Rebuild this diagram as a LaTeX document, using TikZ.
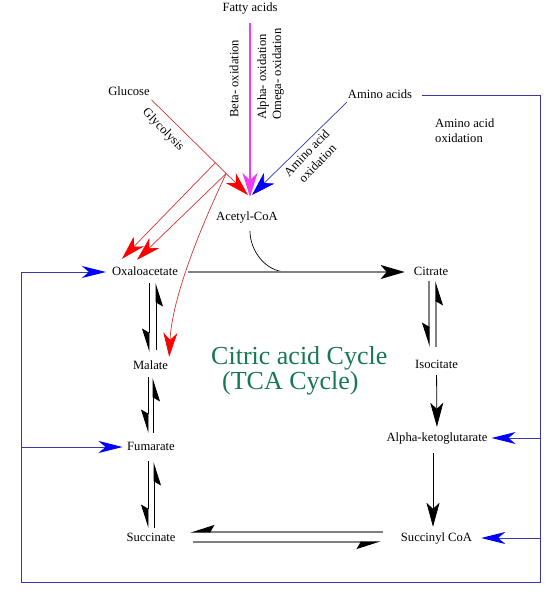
\documentclass[tikz,border=0pt]{standalone}
\usepackage{fontspec}
\setmainfont{Liberation Serif}
\usetikzlibrary{arrows.meta,calc}

\definecolor{cycleGreen}{RGB}{22,120,82}
\definecolor{loopBlue}{RGB}{55,55,165}
\definecolor{glyRed}{RGB}{215,50,50}
\definecolor{fattyPink}{RGB}{240,60,240}

\tikzset{
  metabolite/.style={inner sep=1pt, text height=9pt, text depth=3pt, font=\fontsize{12.6}{15}\selectfont},
  pathLabel/.style={inner sep=1pt, align=center, font=\fontsize{12.6}{15}\selectfont},
  glyLine/.style={glyRed, line width=0.7pt, -{Stealth[length=24pt,width=14pt,inset=7pt,color=red]}},
  fattyLine/.style={fattyPink, line width=1.6pt, -{Stealth[length=24pt,width=15pt,inset=7pt,color=fattyPink]}},
  aminoLine/.style={loopBlue, line width=0.7pt, -{Stealth[length=24pt,width=15pt,inset=7pt,color=blue]}},
  loopLine/.style={loopBlue, line width=0.9pt},
  loopArrow/.style={loopLine, -{Stealth[length=24pt,width=12pt,inset=7pt,color=blue]}},
  stepArrow/.style={black, line width=0.8pt, -{Stealth[length=24pt,width=13pt,inset=6pt,color=black]}},
  carbonArrow/.style={gray, line width=1.6pt, -{Stealth[length=24pt,width=14pt,inset=6pt,color=black]}},
  fwdHarpoon/.style={black, line width=0.8pt, -{Stealth[harpoon,swap,length=22pt,width=14pt,inset=4pt,color=black]}},
  grayHarpoon/.style={fwdHarpoon, gray, line width=1.4pt}
}

\begin{document}
\begin{tikzpicture}[x=1pt,y=-1pt]
  \useasboundingbox (0,0) rectangle (558,597);

  % feeders
  \node[metabolite] (fattyAcids) at (250,9) {Fatty acids};
  \node[metabolite] (glucose) at (129,92) {Glucose};
  \node[metabolite] (aminoAcids) at (380,95) {Amino acids};
  \node[metabolite] (acetylCoA) at (247,217) {Acetyl-CoA};
  \coordinate (acetylIn) at (250,197);

  % cycle
  \node[metabolite] (oxaloAcetate) at (145,272) {Oxaloacetate};
  \node[metabolite] (citrate) at (431,272) {Citrate};
  \node[metabolite] (malate) at (150.5,366) {Malate};
  \node[metabolite] (isocitate) at (436.5,365) {Isocitate};
  \node[metabolite] (fumarate) at (151,447) {Fumarate};
  \node[metabolite] (alphaKeto) at (437,438) {Alpha-ketoglutarate};
  \node[metabolite] (succinate) at (151,538) {Succinate};
  \node[metabolite] (succinylCoA) at (436.5,538) {Succinyl CoA};

  \node[inner sep=0pt, anchor=west, align=left, text=cycleGreen,
        font=\fontsize{26}{25}\selectfont] (tcaTitle) at (211,371)
        {Citric acid Cycle\\\hspace*{11pt}(TCA Cycle)};

  % labels
  \node[pathLabel, rotate=90, anchor=west] (betaOx) at (234,119) {Beta- oxidation};
  \node[pathLabel, rotate=90, anchor=west, align=left] (alphaOx) at (270.5,121) {Alpha- oxidation\\Omega- oxidation};
  \node[pathLabel, rotate=-46] (glycolysis) at (163,130) {Glycolysis};
  \node[pathLabel, rotate=46] (aminoOxTilt) at (312,158) {Amino acid\\oxidation};
  \node[pathLabel, anchor=west, align=left] (aminoOx) at (434,131) {Amino acid\\oxidation};

  \draw[fattyLine, shorten <=7pt] (fattyAcids) -- (acetylIn);
  \draw[glyLine, shorten <=1pt] (glucose.south east) -- ([xshift=-2pt,yshift=2pt]acetylIn);
  \draw[aminoLine] (aminoAcids.south west) -- ([xshift=2pt,yshift=2pt]acetylIn);

  \coordinate (glyA) at ($(glucose.south east)!0.65!(acetylIn)$);
  \coordinate (glyB) at ($(glucose.south east)!0.76!(acetylIn)$);
  \draw[glyLine] (glyA) -- ([xshift=-23pt,yshift=6pt]oxaloAcetate.north);
  \draw[glyLine] (glyB) -- ([xshift=-8pt,yshift=5pt]oxaloAcetate.north);
  \draw[glyLine] (glyB) .. controls (197,235) and (172,300) .. ([yshift=2pt]malate.north east);

  \coordinate (acJoin) at (287,272);
  \draw[black, line width=0.7pt] ([xshift=3pt,yshift=-7pt]acetylCoA.south) .. controls (250,250) and (265,272) .. (acJoin);
  \draw[carbonArrow, shorten <=9pt, shorten >=8pt] (oxaloAcetate.east) -- (citrate.west);

  \draw[fwdHarpoon] ([xshift=4pt,yshift=-4pt]oxaloAcetate.south) -- ([xshift=-1.5pt,yshift=7pt]malate.north);
  \draw[fwdHarpoon] ([xshift=5.5pt,yshift=9pt]malate.north) -- ([xshift=11pt,yshift=-4pt]oxaloAcetate.south);
  \draw[fwdHarpoon] ([xshift=-2.5pt,yshift=-4pt]malate.south) -- ([xshift=-3pt,yshift=7pt]fumarate.north);
  \draw[fwdHarpoon] ([xshift=2pt,yshift=7pt]fumarate.north) -- ([xshift=2.5pt,yshift=-5pt]malate.south);
  \draw[fwdHarpoon] ([xshift=-3pt,yshift=-7pt]fumarate.south) -- ([xshift=-3pt,yshift=3pt]succinate.north);
  \draw[fwdHarpoon] ([xshift=3pt,yshift=3pt]succinate.north) -- ([xshift=3pt,yshift=-8pt]fumarate.south);

  \draw[grayHarpoon] ([xshift=-2pt,yshift=-2pt]citrate.south) -- ([xshift=-7.5pt,yshift=11pt]isocitate.north);
  \draw[grayHarpoon] ([xshift=-0.5pt,yshift=11pt]isocitate.north) -- ([xshift=5pt,yshift=-2pt]citrate.south);
  \draw[stepArrow, shorten <=3pt, shorten >=4pt] (isocitate) -- (alphaKeto);
  \draw[stepArrow, shorten <=8pt, shorten >=4pt] ([xshift=-4pt]alphaKeto.south) -- ([xshift=-3.5pt]succinylCoA.north);

  \draw[grayHarpoon] ([xshift=-17pt,yshift=6pt]succinylCoA.west) -- ([xshift=13.5pt,yshift=6pt]succinate.east);
  \draw[grayHarpoon] ([xshift=16.5pt,yshift=-4pt]succinate.east) -- ([xshift=-19pt,yshift=-4pt]succinylCoA.west);

  % amino acid loop
  \coordinate (loopSE) at (540,582);
  \coordinate (loopSW) at (21,582);
  \draw[loopArrow, shorten >=5pt] ([xshift=9pt]aminoAcids.east) -| (loopSE) -- (loopSW) |- (oxaloAcetate.west);
  \draw[loopArrow, shorten >=3pt] (loopSE |- alphaKeto) -- (alphaKeto.east);
  \draw[loopArrow, shorten >=8pt] (loopSE |- succinylCoA) -- (succinylCoA.east);
  \draw[loopArrow, shorten >=3.5pt] (loopSW |- fumarate) -- (fumarate.west);
\end{tikzpicture}
\end{document}
